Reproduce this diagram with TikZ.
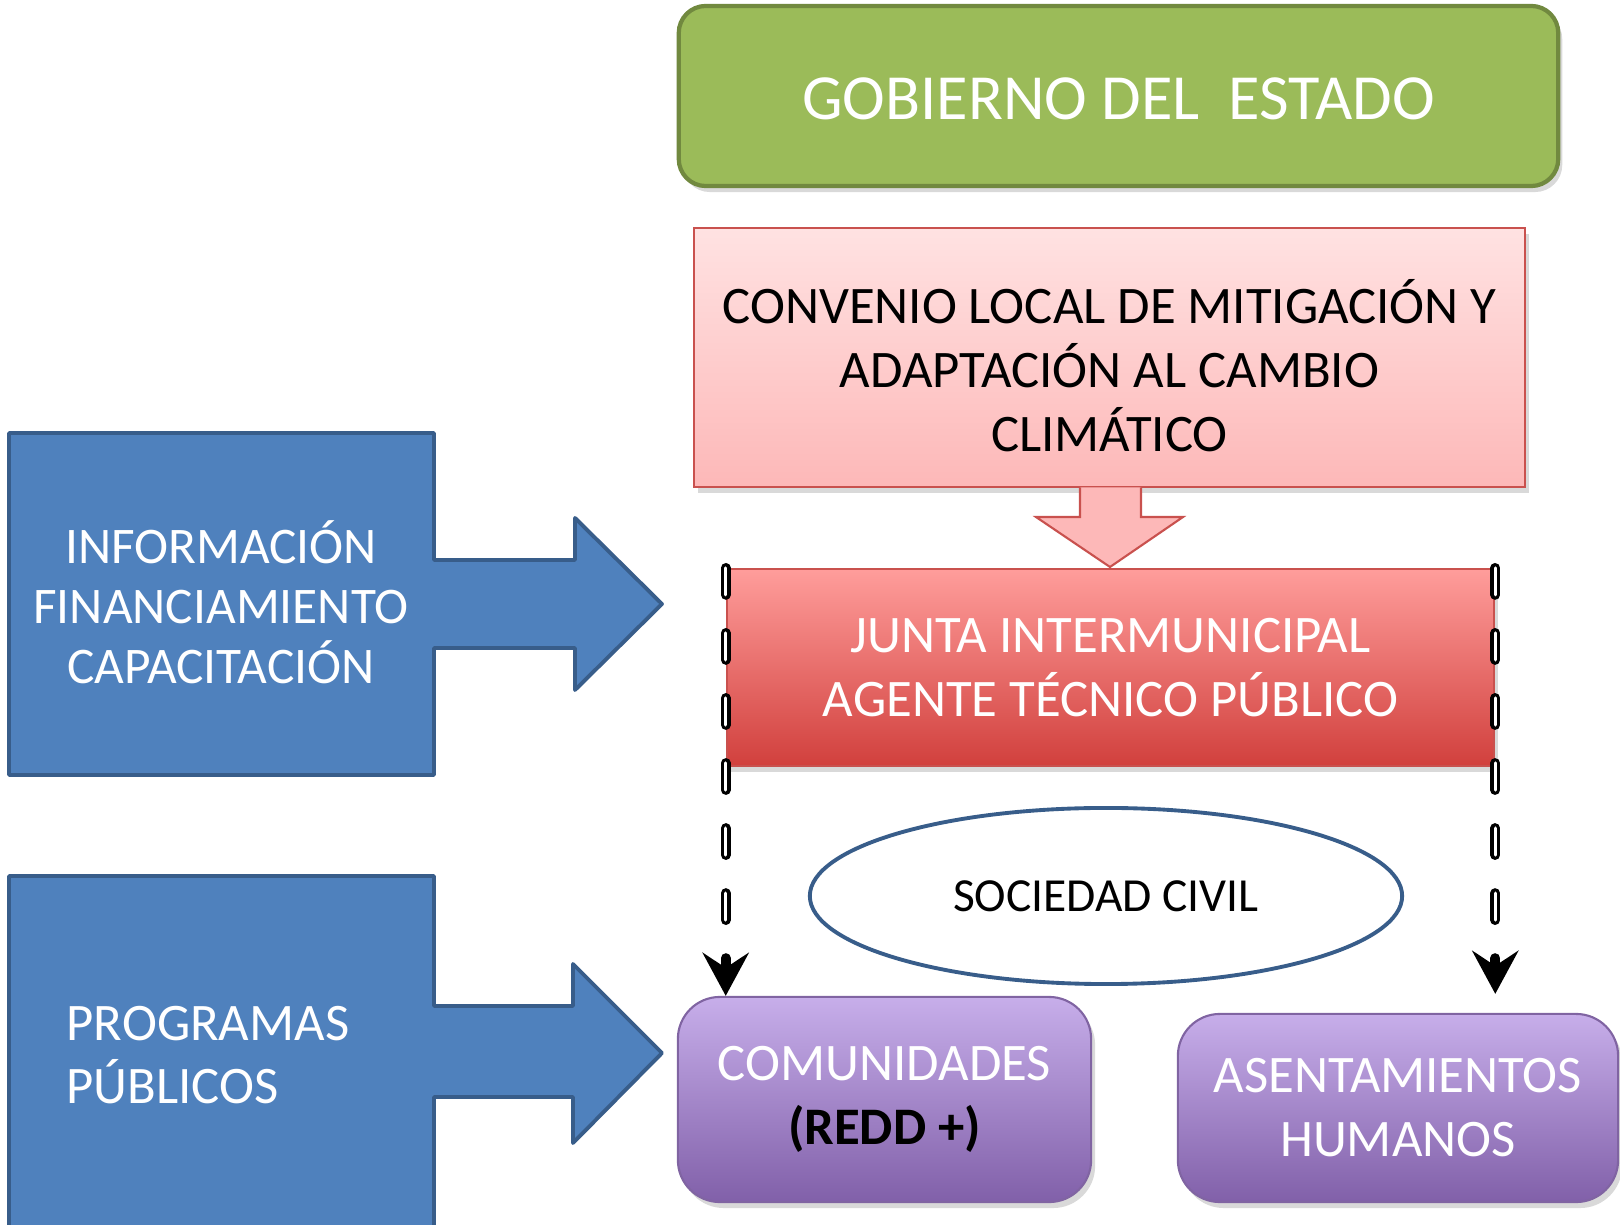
\documentclass[tikz,border=0pt]{standalone}
\usepackage{fontspec}
\setmainfont{Carlito}
\usetikzlibrary{positioning,shapes.geometric,shadows,arrows.meta}
\definecolor{verde}{HTML}{9BBB59}
\definecolor{verdeborde}{HTML}{71893F}
\definecolor{azul}{HTML}{4F81BD}
\definecolor{azulborde}{HTML}{385D8A}
\definecolor{rosaclaro}{HTML}{FFE2E2}
\definecolor{rosa}{HTML}{FDB8B8}
\definecolor{rojoclaro}{HTML}{FF9D9B}
\definecolor{rojo}{HTML}{D1403D}
\definecolor{rojoborde}{HTML}{C9514E}
\definecolor{lilaclaro}{HTML}{C7AEEA}
\definecolor{lila}{HTML}{8160A9}
\definecolor{lilaborde}{HTML}{8064A2}
\tikzset{
    sombra/.style={drop shadow={shadow xshift=0.04cm, shadow yshift=-0.06cm, opacity=0.3}},
    caja/.style={align=center, inner sep=0pt, font=\fontsize{15}{18.2}\selectfont},
    bloque/.style={draw=azulborde, fill=azul, line width=1.1pt, line join=round},
    punteada/.style={black, line width=2.8pt, line cap=round, dash pattern=on 0.27cm off 0.38cm,
        -{Stealth[length=0.43cm, width=0.46cm, inset=0.15cm]},
        postaction={draw=white, line width=0.9pt, dash pattern=on 0.27cm off 0.38cm, -, shorten >=0.43cm}}
}
\begin{document}
\begin{tikzpicture}[x=0.01cm, y=-0.01cm]
                \useasboundingbox (0,0) rectangle (1620,1225);
                \draw[bloque] (9,433) -- (434,433) -- (434,560) -- (575,560) -- (575,518) -- (662,604)
                    -- (575,690) -- (575,648) -- (434,648) -- (434,775) -- (9,775) -- cycle;
                \draw[bloque] (9,876) -- (434,876) -- (434,1006) -- (573,1006) -- (573,964) -- (662,1053)
                    -- (573,1143) -- (573,1097) -- (434,1097) -- (434,1240) -- (9,1240) -- cycle;
                \node[caja, text=white, font=\fontsize{14.6}{17}\selectfont](inf) at (221,602){INFORMACIÓN\\FINANCIAMIENTO\\CAPACITACIÓN};
                \node[caja, text=white, align=left, anchor=west, font=\fontsize{15}{18}\selectfont](prog) at (66,1055){PROGRAMAS\\PÚBLICOS};
                \node[caja, sombra, draw=verdeborde, line width=1.2pt, fill=verde, rounded corners=0.27cm,
                    minimum width=8.79cm, minimum height=1.8cm](gob) at (1118.5,96){};
                \node[caja, text=white, font=\fontsize{18.3}{22}\selectfont](gobtxt) at (1118.5,99){GOBIERNO DEL \ ESTADO};
                \node[caja, sombra, draw=rojoborde, line width=0.6pt, top color=rosaclaro, bottom color=rosa,
                    minimum width=8.31cm, minimum height=2.59cm](conv) at (1109.5,357.5){};
                \node[caja](convtxt) at (1109.5,366){CONVENIO LOCAL DE MITIGACIÓN Y\\ADAPTACIÓN AL CAMBIO\\CLIMÁTICO};
                \draw[draw=rojoborde, line width=0.6pt, fill=rosa] (1080,487.5) -- (1080,517) -- (1036,517) -- (1110,567)
                    -- (1183,517) -- (1141,517) -- (1141,487.5);
                \node[caja, sombra, draw=rojoborde, line width=0.6pt, top color=rojoclaro, bottom color=rojo,
                    minimum width=7.67cm, minimum height=1.97cm, text=white](jta) at (1110.5,667.5){JUNTA INTERMUNICIPAL\\AGENTE TÉCNICO PÚBLICO};
                \node[caja, draw=azulborde, line width=1.1pt, fill=white, ellipse, minimum width=5.92cm, minimum height=1.76cm,
                    font=\fontsize{13.5}{16}\selectfont](soc) at (1106,896){SOCIEDAD CIVIL};
                \node[caja, sombra, draw=lilaborde, line width=0.6pt, top color=lilaclaro, bottom color=lila, rounded corners=0.42cm,
                    minimum width=4.13cm, minimum height=2.05cm, text=white](com) at (884.5,1099.5){COMUNIDADES\\\textcolor{black}{\textbf{(REDD +)}}};
                \node[caja, sombra, draw=lilaborde, line width=0.6pt, top color=lilaclaro, bottom color=lila, rounded corners=0.42cm,
                    minimum width=4.4cm, minimum height=1.88cm, text=white](ase) at (1398,1108){ASENTAMIENTOS\\HUMANOS};
                \coordinate (finA) at (jta.north west |- com.north);
                \coordinate (finB) at ([yshift=0.19cm]jta.north east |- ase.north);
                \draw[punteada] (jta.north west) -- (finA);
                \draw[punteada] (jta.north east) -- (finB);
                \end{tikzpicture}
\end{document}
